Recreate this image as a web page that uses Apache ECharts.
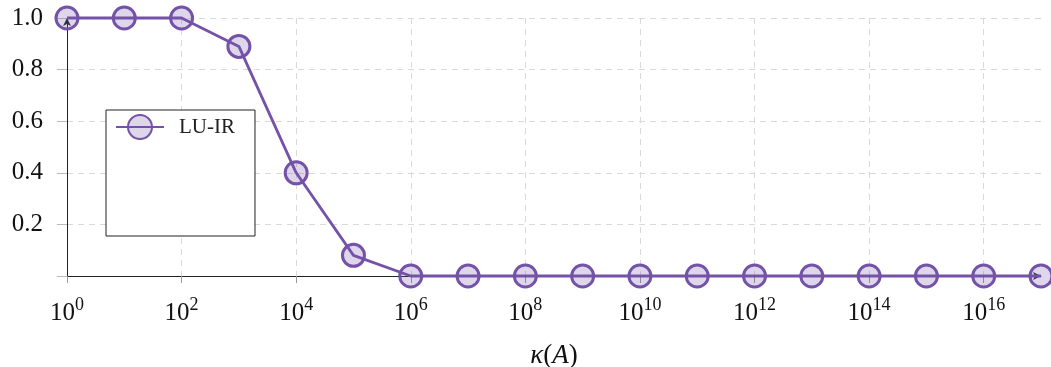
<!DOCTYPE html>
<html>
<head>
<meta charset="utf-8">
<script src="https://cdn.jsdelivr.net/npm/echarts@6/dist/echarts.min.js"></script>
<style>html,body{margin:0;padding:0;background:#fff}#c{width:1051px;height:367px}</style>
</head>
<body>
<div id="c"></div>
<script>
// kappa(A) = 10^exponent
const exponents = [0,1,2,3,4,5,6,7,8,9,10,11,12,13,14,15,16,17];
const luir = [1.0,1.0,1.0,0.89,0.40,0.08,0,0,0,0,0,0,0,0,0,0,0,0];
const seriesName = 'LU-IR';
const xTickExponents = [0,2,4,6,8,10,12,14,16];
const yTicks = [0.2,0.4,0.6,0.8,1.0];

const purple = '#7452a8';
const font = 'Liberation Serif';
const chart = echarts.init(document.getElementById('c'), null, {renderer:'canvas'});
chart.setOption({
  animation: false,
  grid: {left: 67, right: 10, top: 18, bottom: 91, containLabel: false, outerBoundsMode: 'none'},
  legend: {
    data: [seriesName],
    left: 106, top: 110,
    orient: 'vertical',
    backgroundColor: '#fff',
    borderColor: '#222', borderWidth: 1,
    padding: [4, 20, 96, 9],
    itemWidth: 48, itemHeight: 30,
    textStyle: {fontFamily: font, fontSize: 21, color: '#222', padding: [0,0,0,10]}
  },
  xAxis: {
    type: 'value', min: 0, max: 17, interval: 2,
    axisLine: {lineStyle: {color: '#222', width: 1}, symbol: ['none','arrow'], symbolSize: [6,8]},
    axisTick: {show: true, length: 7, lineStyle: {color: '#999'}},
    splitLine: {show: true, showMinLine: false, showMaxLine: false, lineStyle: {color: '#d9d9d9', type: [6,5]}},
    axisLabel: {
      margin: 20,
      showMaxLabel: false,
      formatter: v => xTickExponents.indexOf(v) >= 0 ? '{b|10}{s|' + v + '}' : '',
      rich: {
        b: {fontFamily: font, fontSize: 25, color: '#111', lineHeight: 30, verticalAlign: 'bottom'},
        s: {fontFamily: font, fontSize: 18, color: '#111', lineHeight: 13, verticalAlign: 'top'}
      }
    },
    name: '{i|κ}{r|(}{i|A}{r|)}', nameLocation: 'middle', nameGap: 66,
    nameTextStyle: {
      rich: {
        i: {fontFamily: font, fontStyle: 'italic', fontSize: 27, color: '#111'},
        r: {fontFamily: font, fontSize: 27, color: '#111'}
      }
    }
  },
  yAxis: {
    type: 'value', min: 0, max: 1, interval: 0.2,
    axisLine: {show: true, lineStyle: {color: '#222', width: 1}, symbol: ['none','arrow'], symbolSize: [6,8]},
    axisTick: {show: true, length: 10, lineStyle: {color: '#bbb'}},
    splitLine: {show: true, showMinLine: false, lineStyle: {color: '#d9d9d9', type: [6,5]}},
    axisLabel: {
      margin: 24,
      formatter: v => (v > 0 && yTicks.some(t => Math.abs(t - v) < 1e-9)) ? v.toFixed(1) : '',
      fontFamily: font, fontSize: 25, color: '#111'
    }
  },
  series: [{
    name: seriesName, type: 'line',
    data: exponents.map((e,i) => [e, luir[i]]),
    clip: false,
    symbol: 'circle', symbolSize: 22,
    lineStyle: {color: purple, width: 2.8},
    itemStyle: {color: 'rgba(116,82,168,0.24)', borderColor: purple, borderWidth: 3},
    z: 5
  }]
});
</script>
</body>
</html>
